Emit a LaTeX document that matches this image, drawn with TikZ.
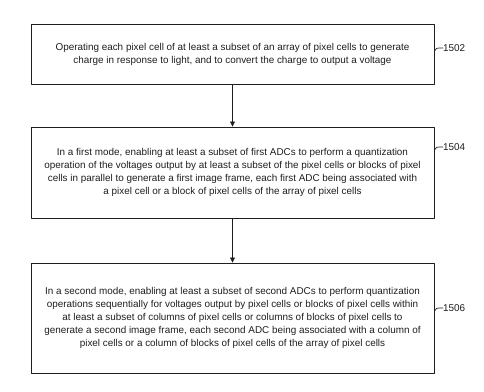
\documentclass[tikz,border=0pt]{standalone}
\usepackage{fontspec}
\setmainfont{Liberation Sans}
\usetikzlibrary{arrows.meta}
\begin{document}
\begin{tikzpicture}[x=1pt,y=1pt, line cap=round, line join=round]
  \definecolor{Ink}{HTML}{1E1E1E}

  \tikzset{
    stepbox/.style={draw=Ink, line width=0.9pt, minimum width=403pt, inner sep=2pt,
      align=center, text=Ink, font=\fontsize{9.9}{13}\selectfont},
    reflabel/.style={anchor=west, text=Ink, inner sep=0pt, font=\fontsize{9.9}{11}\selectfont},
    flow/.style={-{Triangle[length=5pt,width=5pt]}, line width=0.8pt, draw=Ink},
    tick/.style={line width=0.7pt, draw=Ink}
  }

  \useasboundingbox (0,0) rectangle (484,391);

  % Steps of the flow
  \node[stepbox, minimum height=60pt] (s1502) at (232.5,337) {%
    Operating each pixel cell of at least a subset of an array of pixel cells to generate\\
    charge in response to light, and to convert the charge to output a voltage};
  \node[stepbox, minimum height=91pt] (s1504) at (232.5,218.5) {%
    In a first mode, enabling at least a subset of first ADCs to perform a quantization\\
    operation of the voltages output by at least a subset of the pixel cells or blocks of pixel\\
    cells in parallel to generate a first image frame, each first ADC being associated with\\
    a pixel cell or a block of pixel cells of the array of pixel cells};
  \node[stepbox, minimum height=110pt] (s1506) at (232.5,73) {%
    In a second mode, enabling at least a subset of second ADCs to perform quantization\\
    operations sequentially for voltages output by pixel cells or blocks of pixel cells within\\
    at least a subset of columns of pixel cells or columns of blocks of pixel cells to\\
    generate a second image frame, each second ADC being associated with a column of\\
    pixel cells or a column of blocks of pixel cells of the array of pixel cells};

  % Arrows between steps
  \draw[flow] (s1502) -- (s1504);
  \draw[flow] (s1504) -- (s1506);

  % Reference numerals
  \foreach \step/\y in {1502/343, 1504/244, 1506/83} {
    \node[reflabel] (n\step) at (443,\y) {\step};
    \coordinate (t\step) at (s\step.east |- 0,\y-3);
    \draw[tick] (t\step) .. controls (436,\y) .. (n\step.west);
  }
\end{tikzpicture}
\end{document}
